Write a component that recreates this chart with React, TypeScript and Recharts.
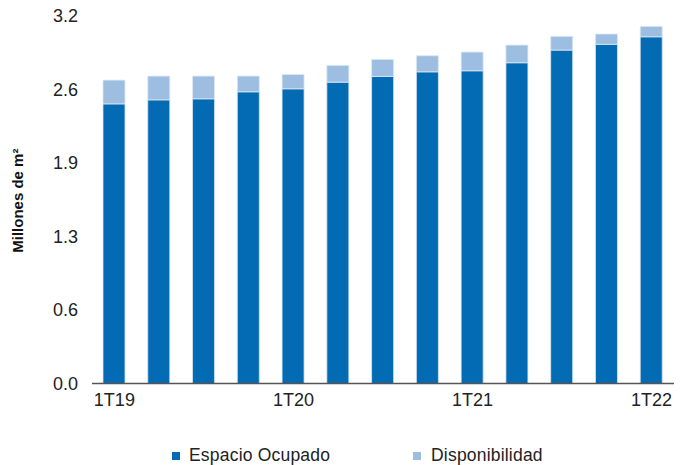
import React from 'react';
import { BarChart, Bar, XAxis, YAxis, Legend } from 'recharts';

const categories = ['1T19', '2T19', '3T19', '4T19', '1T20', '2T20', '3T20', '4T20', '1T21', '2T21', '3T21', '4T21', '1T22'];
const ocupado = [2.435, 2.47, 2.479, 2.54, 2.566, 2.624, 2.674, 2.714, 2.723, 2.793, 2.903, 2.953, 3.019];
const disponibilidad = [0.207, 0.207, 0.198, 0.137, 0.125, 0.146, 0.148, 0.14, 0.163, 0.154, 0.12, 0.09, 0.091];
const yTicks = [0, 0.64, 1.28, 1.92, 2.56, 3.2];
const seriesNames = ['Espacio Ocupado', 'Disponibilidad'];
const seriesColors = ['#036AB4', '#9DBEE0'];

const data = categories.map((c, i) => ({ name: c, ocupado: ocupado[i], disponibilidad: disponibilidad[i] }));

const FONT = '"Liberation Sans", Arial, sans-serif';

const renderLegend = () => (
  <div style={{ position: 'relative', height: 30, fontFamily: FONT, fontSize: 17.5, color: '#222' }}>
    {seriesNames.map((n, i) => (
      <div
        key={n}
        style={{ position: 'absolute', left: i === 0 ? 172 : 413, top: 10, display: 'flex', alignItems: 'center', whiteSpace: 'nowrap', letterSpacing: 0.2 }}
      >
        <span style={{ display: 'inline-block', width: 8, height: 8, background: seriesColors[i], marginRight: i === 0 ? 9 : 10 }} />
        <span>{n}</span>
      </div>
    ))}
  </div>
);

export default function App() {
  return (
    <div style={{ position: 'absolute', left: 0, top: 0, width: 687, height: 465, background: '#fff' }}>
      <BarChart
        width={687}
        height={465}
        data={data}
        margin={{ top: 16, right: 13, bottom: 0, left: 0 }}
        barSize={22}
      >
        <XAxis
          dataKey="name"
          interval={3}
          tickLine={false}
          tickMargin={4}
          axisLine={{ stroke: '#555', strokeWidth: 1.5 }}
          tick={{ fill: '#222', fontSize: 18, fontFamily: FONT }}
          height={51.5}
        />
        <YAxis
          domain={[0, 3.2]}
          ticks={yTicks}
          interval={0}
          tickFormatter={(v: number) => v.toFixed(1)}
          axisLine={false}
          tickLine={false}
          tickMargin={8}
          width={92}
          tick={{ fill: '#222', fontSize: 18, fontFamily: FONT }}
          label={{
            value: 'Millones de m²',
            angle: -90,
            position: 'insideLeft',
            dx: 13,
            dy: 53,
            style: { fill: '#111', fontSize: 15, fontWeight: 700, fontFamily: FONT },
          }}
        />
        <Legend
          verticalAlign="bottom"
          align="left"
          content={renderLegend}
          wrapperStyle={{ height: 30, left: 0, bottom: 0, width: 687 }}
        />
        <Bar dataKey="ocupado" name="Espacio Ocupado" stackId="a" fill="#036AB4" stroke="#d6e4f2" strokeWidth={0.8} isAnimationActive={false} />
        <Bar dataKey="disponibilidad" name="Disponibilidad" stackId="a" fill="#9DBEE0" stroke="#dde8f4" strokeWidth={0.8} isAnimationActive={false} />
      </BarChart>
    </div>
  );
}
